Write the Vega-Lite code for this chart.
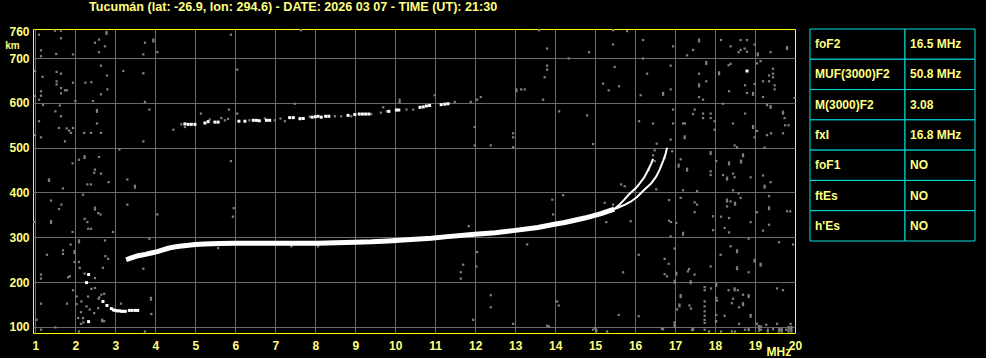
{
"$schema": "https://vega.github.io/schema/vega-lite/v6.json",
"background": "black",
"padding": {"left": 4, "top": 0, "right": 10, "bottom": 0},
"autosize": {"type": "pad"},
"config": {"font": "Liberation Sans", "view": {"stroke": "#ffff00", "strokeWidth": 1}},
"bounds": "flush",
"spacing": 15,
"datasets": {
"noise": [
{"f":1.09,"h":752},{"f":1.49,"h":761},{"f":1.64,"h":761},{"f":1.64,"h":744},{"f":1.14,"h":717},{"f":1.14,"h":704},{"f":1.52,"h":709},{"f":1.94,"h":708},{"f":2.59,"h":741},{"f":2.49,"h":734},{"f":2.74,"h":726},{"f":2.59,"h":713},{"f":2.78,"h":758},{"f":2.78,"h":754},{"f":2.64,"h":683},{"f":0.99,"h":671},{"f":1.18,"h":658},{"f":1.53,"h":669},{"f":1.64,"h":665},{"f":1.53,"h":648},{"f":1.53,"h":641},{"f":1.64,"h":633},{"f":1.74,"h":628},{"f":1.79,"h":628},{"f":1.94,"h":645},{"f":2.25,"h":645},{"f":2.4,"h":646},{"f":2.79,"h":661},{"f":2.8,"h":630},{"f":2.64,"h":619},{"f":1.14,"h":626},{"f":0.99,"h":615},{"f":1.09,"h":607},{"f":1.64,"h":621},{"f":1.14,"h":616},{"f":2.0,"h":604},{"f":2.44,"h":604},{"f":1.19,"h":595},{"f":1.61,"h":594},{"f":1.5,"h":581},{"f":1.64,"h":570},{"f":2.54,"h":584},{"f":2.54,"h":580},{"f":2.54,"h":554},{"f":2.64,"h":533},{"f":2.22,"h":533},{"f":2.39,"h":533},{"f":1.59,"h":544},{"f":1.78,"h":543},{"f":1.84,"h":538},{"f":1.89,"h":533},{"f":1.94,"h":544},{"f":1.09,"h":559},{"f":1.14,"h":523},{"f":0.99,"h":528},{"f":1.74,"h":514},{"f":1.93,"h":465},{"f":2.09,"h":473},{"f":2.23,"h":481},{"f":2.23,"h":477},{"f":2.59,"h":479},{"f":2.47,"h":444},{"f":2.49,"h":451},{"f":2.64,"h":442},{"f":2.83,"h":423},{"f":1.34,"h":429},{"f":1.34,"h":426},{"f":1.69,"h":409},{"f":2.19,"h":395},{"f":2.3,"h":418},{"f":2.39,"h":418},{"f":1.39,"h":382},{"f":1.65,"h":373},{"f":1.59,"h":363},{"f":1.39,"h":336},{"f":1.39,"h":332},{"f":2.23,"h":341},{"f":2.3,"h":334},{"f":2.49,"h":366},{"f":2.49,"h":362},{"f":2.57,"h":354},{"f":2.63,"h":351},{"f":2.32,"h":319},{"f":2.39,"h":319},{"f":1.93,"h":312},{"f":0.97,"h":334},{"f":2.94,"h":312},{"f":2.09,"h":293},{"f":2.09,"h":289},{"f":2.74,"h":293},{"f":1.88,"h":284},{"f":1.69,"h":271},{"f":1.69,"h":263},{"f":1.98,"h":269},{"f":1.98,"h":265},{"f":1.29,"h":261},{"f":1.98,"h":245},{"f":2.75,"h":258},{"f":2.82,"h":252},{"f":2.11,"h":232},{"f":1.14,"h":217},{"f":1.14,"h":208},{"f":1.86,"h":213},{"f":1.82,"h":211},{"f":2.69,"h":232},{"f":2.49,"h":209},{"f":2.23,"h":219},{"f":2.09,"h":245},{"f":1.94,"h":182},{"f":2.03,"h":168},{"f":2.15,"h":157},{"f":2.32,"h":168},{"f":2.4,"h":185},{"f":2.49,"h":187},{"f":2.28,"h":146},{"f":2.36,"h":139},{"f":2.14,"h":133},{"f":2.07,"h":120},{"f":2.14,"h":107},{"f":2.19,"h":120},{"f":2.47,"h":131},{"f":2.65,"h":172},{"f":2.72,"h":174},{"f":2.57,"h":142},{"f":2.67,"h":116},{"f":2.67,"h":113},{"f":2.72,"h":113},{"f":2.03,"h":151},{"f":1.14,"h":152},{"f":1.79,"h":152},{"f":1.03,"h":116},{"f":1.14,"h":94},{"f":1.5,"h":99},{"f":2.09,"h":90},{"f":2.58,"h":163},{"f":2.6,"h":166},{"f":2.2,"h":110},
{"f":3.95,"h":741},{"f":3.95,"h":737},{"f":3.74,"h":734},{"f":4.05,"h":713},{"f":3.7,"h":708},{"f":5.89,"h":752},{"f":7.64,"h":762},{"f":3.2,"h":671},{"f":3.7,"h":666},{"f":6.05,"h":674},{"f":3.74,"h":602},{"f":3.85,"h":585},{"f":5.84,"h":585},{"f":5.14,"h":576},{"f":6.05,"h":576},{"f":7.49,"h":598},{"f":9.7,"h":590},{"f":4.45,"h":540},{"f":3.7,"h":514},{"f":3.1,"h":496},{"f":5.89,"h":470},{"f":3.3,"h":429},{"f":3.49,"h":415},{"f":3.49,"h":411},{"f":3.3,"h":373},{"f":4.05,"h":351},{"f":5.96,"h":365},{"f":5.94,"h":346},{"f":3.85,"h":297},{"f":3.7,"h":230},{"f":3.89,"h":165},{"f":3.89,"h":161},{"f":3.9,"h":129},{"f":3.14,"h":152},{"f":3.74,"h":90},
{"f":4.65,"h":552},{"f":4.74,"h":546},{"f":5.36,"h":563},{"f":5.65,"h":566},{"f":5.74,"h":561},{"f":5.82,"h":564},{"f":6.35,"h":561},{"f":6.74,"h":565},{"f":6.99,"h":561},{"f":7.13,"h":565},{"f":7.24,"h":559},{"f":7.61,"h":563},{"f":7.86,"h":569},{"f":8.49,"h":570},{"f":8.65,"h":570},{"f":8.9,"h":570},{"f":9.4,"h":575},{"f":9.64,"h":578},{"f":9.79,"h":581},{"f":10.11,"h":602},{"f":10.11,"h":607},{"f":10.28,"h":585},{"f":10.45,"h":585},{"f":10.99,"h":617},{"f":11.49,"h":602},{"f":5.57,"h":276},{"f":7.4,"h":280},{"f":8.07,"h":280},
{"f":13.6,"h":762},{"f":15.45,"h":762},{"f":15.8,"h":760},{"f":16.2,"h":740},{"f":13.8,"h":721},{"f":14.85,"h":713},{"f":15.45,"h":730},{"f":14.34,"h":699},{"f":16.2,"h":699},{"f":13.8,"h":683},{"f":13.8,"h":674},{"f":13.74,"h":657},{"f":15.49,"h":680},{"f":16.3,"h":665},{"f":15.2,"h":643},{"f":15.6,"h":637},{"f":15.34,"h":628},{"f":13.03,"h":630},{"f":13.03,"h":626},{"f":13.15,"h":630},{"f":13.24,"h":630},{"f":13.7,"h":607},{"f":16.14,"h":617},{"f":11.89,"h":602},{"f":12.05,"h":607},{"f":12.14,"h":613},{"f":14.1,"h":581},{"f":14.8,"h":572},{"f":16.1,"h":559},{"f":16.45,"h":554},{"f":11.99,"h":546},{"f":12.95,"h":532},{"f":12.95,"h":523},{"f":12.95,"h":501},{"f":11.99,"h":505},{"f":12.39,"h":505},{"f":14.95,"h":508},{"f":16.54,"h":509},{"f":16.49,"h":494},{"f":16.45,"h":483},{"f":16.49,"h":470},{"f":16.34,"h":451},{"f":15.65,"h":418},{"f":15.74,"h":414},{"f":16.53,"h":407},{"f":13.93,"h":384},{"f":14.2,"h":394},{"f":13.95,"h":351},{"f":15.24,"h":377},{"f":15.45,"h":373},{"f":15.28,"h":334},{"f":15.89,"h":336},{"f":11.84,"h":325},{"f":13.3,"h":284},{"f":12.05,"h":267},{"f":11.7,"h":239},{"f":11.64,"h":222},{"f":11.64,"h":208},{"f":12.03,"h":235},{"f":15.7,"h":222},{"f":16.09,"h":261},{"f":12.39,"h":171},{"f":12.39,"h":144},{"f":14.05,"h":157},{"f":14.09,"h":148},{"f":11.95,"h":116},{"f":12.95,"h":107},{"f":13.85,"h":101},{"f":14.95,"h":94},{"f":15.03,"h":94},{"f":15.03,"h":90},{"f":15.3,"h":90},{"f":15.59,"h":127},{"f":16.09,"h":124},{"f":13.8,"h":103},{"f":15.0,"h":98},{"f":16.67,"h":96},{"f":16.98,"h":110},
{"f":17.6,"h":741},{"f":17.6,"h":737},{"f":18.15,"h":740},{"f":18.64,"h":740},{"f":18.8,"h":740},{"f":16.95,"h":726},{"f":17.45,"h":718},{"f":18.39,"h":726},{"f":18.74,"h":721},{"f":18.64,"h":718},{"f":18.8,"h":714},{"f":18.59,"h":713},{"f":18.99,"h":730},{"f":19.07,"h":706},{"f":19.07,"h":710},{"f":19.8,"h":724},{"f":19.8,"h":720},{"f":19.39,"h":713},{"f":17.3,"h":706},{"f":17.78,"h":691},{"f":17.78,"h":687},{"f":16.89,"h":683},{"f":17.6,"h":665},{"f":18.1,"h":668},{"f":18.1,"h":664},{"f":18.39,"h":687},{"f":18.34,"h":684},{"f":19.05,"h":688},{"f":19.14,"h":693},{"f":19.45,"h":676},{"f":19.45,"h":665},{"f":19.35,"h":661},{"f":19.45,"h":657},{"f":19.2,"h":648},{"f":19.35,"h":648},{"f":19.49,"h":639},{"f":19.49,"h":630},{"f":17.6,"h":641},{"f":17.6,"h":637},{"f":17.78,"h":648},{"f":18.35,"h":626},{"f":18.75,"h":639},{"f":18.8,"h":622},{"f":18.95,"h":622},{"f":18.95,"h":618},{"f":18.99,"h":642},{"f":16.7,"h":622},{"f":16.7,"h":618},{"f":16.89,"h":630},{"f":17.6,"h":613},{"f":17.7,"h":607},{"f":18.2,"h":598},{"f":19.2,"h":613},{"f":19.3,"h":595},{"f":19.39,"h":593},{"f":19.39,"h":589},{"f":19.99,"h":611},{"f":16.95,"h":585},{"f":17.49,"h":585},{"f":17.7,"h":576},{"f":17.89,"h":576},{"f":17.45,"h":575},{"f":17.7,"h":566},{"f":17.89,"h":566},{"f":18.75,"h":576},{"f":19.7,"h":580},{"f":19.7,"h":576},{"f":19.74,"h":566},{"f":17.99,"h":559},{"f":16.95,"h":554},{"f":17.2,"h":554},{"f":17.25,"h":554},{"f":18.45,"h":554},{"f":18.95,"h":548},{"f":18.95,"h":544},{"f":19.75,"h":550},{"f":19.84,"h":550},{"f":17.24,"h":525},{"f":17.24,"h":521},{"f":17.99,"h":540},{"f":19.05,"h":537},{"f":19.3,"h":528},{"f":19.4,"h":532},{"f":19.7,"h":532},{"f":18.99,"h":523},{"f":16.89,"h":518},{"f":18.49,"h":505},{"f":18.55,"h":501},{"f":19.24,"h":500},{"f":16.93,"h":492},{"f":17.89,"h":490},{"f":17.89,"h":486},{"f":18.7,"h":485},{"f":18.7,"h":481},{"f":16.74,"h":477},{"f":17.14,"h":474},{"f":17.09,"h":462},{"f":17.09,"h":458},{"f":17.3,"h":453},{"f":17.3,"h":449},{"f":18.03,"h":470},{"f":18.35,"h":467},{"f":18.35,"h":463},{"f":18.65,"h":471},{"f":18.65,"h":467},{"f":17.89,"h":447},{"f":17.89,"h":439},{"f":18.2,"h":439},{"f":18.45,"h":442},{"f":18.49,"h":434},{"f":18.3,"h":429},{"f":18.3,"h":433},{"f":18.89,"h":434},{"f":19.2,"h":438},{"f":19.39,"h":423},{"f":19.24,"h":415},{"f":19.24,"h":411},{"f":17.2,"h":405},{"f":17.55,"h":403},{"f":18.45,"h":405},{"f":18.59,"h":398},{"f":18.64,"h":388},{"f":18.3,"h":384},{"f":18.3,"h":380},{"f":18.39,"h":380},{"f":18.5,"h":373},{"f":18.5,"h":377},{"f":18.3,"h":369},{"f":16.85,"h":383},{"f":17.14,"h":388},{"f":17.49,"h":378},{"f":17.55,"h":373},{"f":17.49,"h":356},{"f":19.05,"h":356},{"f":19.35,"h":392},{"f":19.35,"h":367},{"f":19.35,"h":363},{"f":19.8,"h":358},{"f":19.88,"h":358},{"f":17.95,"h":347},{"f":18.15,"h":346},{"f":18.35,"h":343},{"f":18.89,"h":334},{"f":16.85,"h":337},{"f":16.9,"h":334},{"f":17.03,"h":332},{"f":19.35,"h":328},{"f":18.24,"h":321},{"f":18.35,"h":311},{"f":17.95,"h":316},{"f":17.2,"h":310},{"f":17.2,"h":306},{"f":19.2,"h":315},{"f":16.89,"h":302},{"f":18.84,"h":297},{"f":19.6,"h":289},{"f":19.95,"h":284},{"f":16.99,"h":275},{"f":18.39,"h":280},{"f":18.55,"h":271},{"f":18.55,"h":267},{"f":18.14,"h":261},{"f":18.99,"h":250},{"f":18.99,"h":246},{"f":19.14,"h":241},{"f":19.14,"h":237},{"f":16.74,"h":252},{"f":16.84,"h":241},{"f":16.74,"h":218},{"f":16.8,"h":213},{"f":17.03,"h":221},{"f":17.03,"h":217},{"f":17.35,"h":229},{"f":17.49,"h":217},{"f":17.89,"h":235},{"f":18.55,"h":233},{"f":18.55,"h":229},{"f":18.84,"h":222},{"f":16.99,"h":203},{"f":16.99,"h":199},{"f":17.39,"h":202},{"f":17.39,"h":198},{"f":18.03,"h":196},{"f":18.03,"h":192},{"f":17.74,"h":189},{"f":17.9,"h":186},{"f":17.74,"h":182},{"f":18.34,"h":182},{"f":18.49,"h":186},{"f":18.49,"h":182},{"f":18.57,"h":182},{"f":18.7,"h":172},{"f":18.84,"h":171},{"f":18.84,"h":167},{"f":19.55,"h":186},{"f":19.7,"h":182},{"f":17.14,"h":171},{"f":17.14,"h":167},{"f":17.11,"h":150},{"f":17.11,"h":146},{"f":17.36,"h":148},{"f":17.4,"h":141},{"f":17.74,"h":157},{"f":17.74,"h":146},{"f":17.74,"h":135},{"f":17.74,"h":125},{"f":17.74,"h":116},{"f":18.03,"h":165},{"f":18.03,"h":127},{"f":18.03,"h":113},{"f":18.05,"h":159},{"f":18.42,"h":153},{"f":18.6,"h":144},{"f":18.45,"h":163},{"f":18.7,"h":153},{"f":18.7,"h":149},{"f":18.24,"h":125},{"f":18.89,"h":127},{"f":18.89,"h":123},{"f":18.6,"h":107},{"f":19.05,"h":107},{"f":19.15,"h":101},{"f":19.28,"h":105},{"f":19.55,"h":107},{"f":19.89,"h":107},{"f":16.99,"h":105},{"f":16.99,"h":101},{"f":16.7,"h":95},{"f":17.45,"h":93},{"f":17.45,"h":97},{"f":17.74,"h":94},{"f":17.85,"h":90},{"f":18.15,"h":90},{"f":18.42,"h":90},{"f":18.5,"h":90},{"f":18.75,"h":94},{"f":18.84,"h":93},{"f":18.84,"h":97},{"f":19.15,"h":94},{"f":19.32,"h":94},{"f":19.32,"h":90},{"f":19.45,"h":95},{"f":19.65,"h":94},{"f":19.9,"h":95},{"f":19.78,"h":94},{"f":17.05,"h":139},{"f":17.32,"h":224},{"f":17.42,"h":94},{"f":17.74,"h":109},{"f":18.02,"h":112},
{"f":19.6,"h":90},{"f":19.67,"h":90},{"f":19.6,"h":95},{"f":19.67,"h":95},{"f":19.84,"h":90},{"f":19.91,"h":90},{"f":19.84,"h":95},{"f":19.91,"h":95},{"f":19.84,"h":100},{"f":19.91,"h":100},{"f":19.1,"h":92},{"f":19.1,"h":97},{"f":19.1,"h":102}
],
"F": [
{"f":3.27,"h":250},{"f":3.4,"h":254},{"f":3.57,"h":259},{"f":3.75,"h":262},{"f":3.9,"h":265},{"f":4.05,"h":268},{"f":4.15,"h":271},{"f":4.3,"h":275},{"f":4.44,"h":278},{"f":4.6,"h":280},{"f":4.78,"h":282},{"f":5.0,"h":284},{"f":5.23,"h":285},{"f":5.6,"h":286},{"f":6.0,"h":287},{"f":6.5,"h":287},{"f":7.0,"h":287},{"f":7.5,"h":287},{"f":8.07,"h":287},{"f":8.5,"h":288},{"f":9.0,"h":289},{"f":9.4,"h":290},{"f":9.82,"h":292},{"f":10.4,"h":295},{"f":10.9,"h":298},{"f":11.24,"h":301},{"f":11.99,"h":307},{"f":12.5,"h":310},{"f":12.95,"h":315},{"f":13.57,"h":322},{"f":13.98,"h":329},{"f":14.24,"h":333},{"f":14.74,"h":343},{"f":15.15,"h":353},{"f":15.48,"h":363}
],
"OX": [
{"b":"O","f":15.48,"h":363},{"b":"O","f":15.6,"h":372},{"b":"O","f":15.73,"h":384},{"b":"O","f":15.85,"h":396},{"b":"O","f":16.02,"h":410},{"b":"O","f":16.12,"h":421},{"b":"O","f":16.23,"h":434},{"b":"O","f":16.32,"h":449},{"b":"O","f":16.4,"h":464},{"b":"O","f":16.45,"h":475},
{"b":"X","f":15.48,"h":363},{"b":"X","f":15.57,"h":366},{"b":"X","f":15.75,"h":373},{"b":"X","f":15.9,"h":380},{"b":"X","f":16.05,"h":390},{"b":"X","f":16.23,"h":406},{"b":"X","f":16.4,"h":420},{"b":"X","f":16.53,"h":436},{"b":"X","f":16.62,"h":452},{"b":"X","f":16.7,"h":470},{"b":"X","f":16.76,"h":485},{"b":"X","f":16.8,"h":500}
],
"W": [
{"f":4.74,"h":553},{"f":4.82,"h":552},{"f":4.9,"h":552},{"f":4.99,"h":552},{"f":5.24,"h":555},{"f":5.32,"h":558},{"f":5.49,"h":557},{"f":5.57,"h":557},{"f":6.09,"h":559},{"f":6.24,"h":559},{"f":6.45,"h":561},{"f":6.53,"h":561},{"f":6.6,"h":560},{"f":6.78,"h":561},{"f":6.86,"h":561},{"f":7.36,"h":567},{"f":7.45,"h":567},{"f":7.62,"h":565},{"f":7.7,"h":565},{"f":7.92,"h":568},{"f":8.0,"h":569},{"f":8.07,"h":570},{"f":8.15,"h":568},{"f":8.26,"h":570},{"f":8.34,"h":570},{"f":8.82,"h":572},{"f":8.99,"h":574},{"f":9.1,"h":575},{"f":9.18,"h":575},{"f":9.26,"h":575},{"f":9.34,"h":575},{"f":9.84,"h":581},{"f":10.03,"h":584},{"f":10.09,"h":584},{"f":10.62,"h":590},{"f":10.7,"h":591},{"f":10.78,"h":593},{"f":10.86,"h":594},{"f":11.15,"h":596},{"f":11.24,"h":597},{"f":11.32,"h":598},
{"f":2.33,"h":217},{"f":2.28,"h":199},{"f":2.69,"h":157},{"f":2.79,"h":148},{"f":2.33,"h":112},{"f":2.9,"h":141},{"f":2.95,"h":138},{"f":3.0,"h":137},{"f":3.05,"h":136},{"f":3.1,"h":136},{"f":3.15,"h":135},{"f":3.2,"h":135},{"f":3.25,"h":135},{"f":3.35,"h":137},{"f":3.42,"h":137},{"f":3.5,"h":137},{"f":3.56,"h":137},{"f":18.8,"h":671}
],
"table": [
{"r":1,"k":"foF2","v":"16.5 MHz"},{"r":2,"k":"MUF(3000)F2","v":"50.8 MHz"},{"r":3,"k":"M(3000)F2","v":"3.08"},{"r":4,"k":"fxI","v":"16.8 MHz"},{"r":5,"k":"foF1","v":"NO"},{"r":6,"k":"ftEs","v":"NO"},{"r":7,"k":"h'Es","v":"NO"}
]
},
"hconcat": [
{
"width": 762, "height": 304,
"title": {"text": "Tucumán (lat: -26.9, lon: 294.6) - DATE: 2026 03 07 - TIME (UT): 21:30", "anchor": "start", "frame": "group", "dx": 56, "offset": 2, "baseline": "alphabetic", "color": "#ffff80", "font": "Liberation Sans", "fontSize": 12.6, "fontWeight": "bold"},
"encoding": {
"x": {"field": "f", "type": "quantitative", "scale": {"domain": [0.94, 20], "nice": false, "zero": false},
 "axis": {"values": [1,2,3,4,5,6,7,8,9,10,11,12,13,14,15,16,17,18,19,20], "grid": true, "gridColor": "#6a6a6a", "gridOpacity": {"condition": {"test": "datum.value >= 20", "value": 0}, "value": 1}, "domain": false, "ticks": false, "labelPadding": 7, "labelColor": "#ffff80", "labelFont": "Liberation Sans", "labelFontSize": 12, "labelFontWeight": "bold", "labelOverlap": false, "labelFlush": false, "title": "MHz", "titleColor": "#ffff80", "titleFont": "Liberation Sans", "titleFontSize": 12, "titleFontWeight": "bold", "titleX": 733, "titleY": 22.5, "titleAlign": "left", "titleBaseline": "alphabetic"}},
"y": {"field": "h", "type": "quantitative", "scale": {"domain": [86.6, 764.7], "nice": false, "zero": false},
 "axis": {"values": [100,200,300,400,500,600,700,760], "grid": true, "gridColor": "#6a6a6a", "gridOpacity": {"condition": {"test": "datum.value >= 760", "value": 0}, "value": 1}, "domain": false, "ticks": false, "labelPadding": 4, "labelColor": "#ffff80", "labelFont": "Liberation Sans", "labelFontSize": 12, "labelFontWeight": "bold", "labelOverlap": false, "title": "km", "titleAngle": 0, "titleColor": "#ffff80", "titleFont": "Liberation Sans", "titleFontSize": 10, "titleFontWeight": "bold", "titleX": -28.3, "titleY": 19, "titleAlign": "left", "titleBaseline": "alphabetic"}}
},
"layer": [
{"data": {"name": "noise"}, "mark": {"type": "square", "size": 5, "color": "#808080", "opacity": 1}},
{"data": {"name": "F"}, "mark": {"type": "line", "color": "white", "strokeWidth": 5}},
{"data": {"name": "OX"}, "mark": {"type": "line", "color": "white", "strokeWidth": 2}, "encoding": {"detail": {"field": "b"}}},
{"data": {"name": "W"}, "mark": {"type": "square", "size": 9, "color": "white", "opacity": 1}}
]
},
{
"spacing": 0,
"bounds": "flush",
"hconcat": [
{"width": 95, "height": 212, "view": {"stroke": null}, "data": {"name": "table"},
 "encoding": {"y": {"field": "r", "type": "ordinal", "axis": null, "scale": {"paddingInner": 0, "paddingOuter": 0}},
  "x": {"datum": "k", "type": "nominal", "axis": null, "scale": {"paddingInner": 0, "paddingOuter": 0}}},
 "layer": [
  {"mark": {"type": "rect", "fill": "black", "stroke": "#00e0e0", "strokeWidth": 1}},
  {"mark": {"type": "text", "align": "left", "dx": 5, "baseline": "middle", "color": "#ffff80", "font": "Liberation Sans", "fontSize": 12, "fontWeight": "bold"},
   "encoding": {"x": {"datum": "k", "type": "nominal", "bandPosition": 0}, "text": {"field": "k"}}}
 ]},
{"width": 70, "height": 212, "view": {"stroke": null}, "data": {"name": "table"},
 "encoding": {"y": {"field": "r", "type": "ordinal", "axis": null, "scale": {"paddingInner": 0, "paddingOuter": 0}},
  "x": {"datum": "v", "type": "nominal", "axis": null, "scale": {"paddingInner": 0, "paddingOuter": 0}}},
 "layer": [
  {"mark": {"type": "rect", "fill": "black", "stroke": "#00e0e0", "strokeWidth": 1}},
  {"mark": {"type": "text", "align": "left", "dx": 5, "baseline": "middle", "color": "#ffff80", "font": "Liberation Sans", "fontSize": 12, "fontWeight": "bold"},
   "encoding": {"x": {"datum": "v", "type": "nominal", "bandPosition": 0}, "text": {"field": "v"}}}
 ]}
]
}
]
}
